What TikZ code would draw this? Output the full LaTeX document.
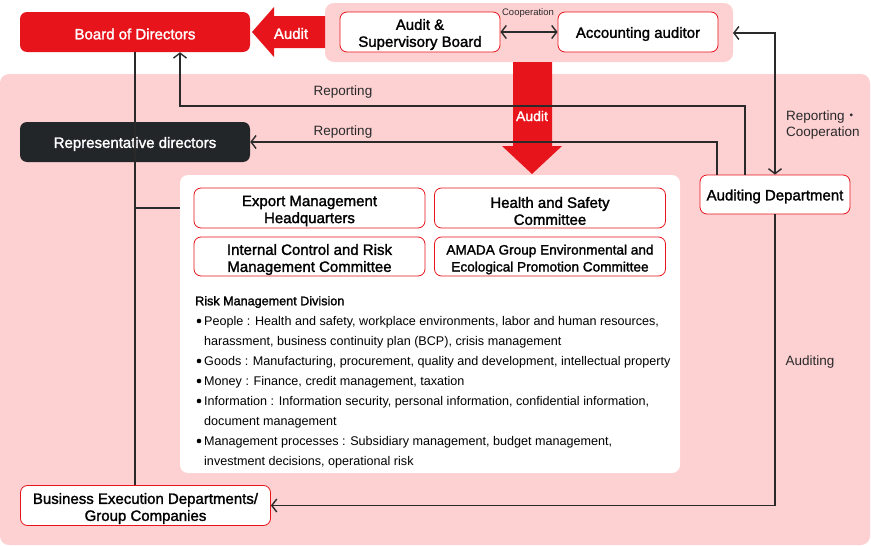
\documentclass[tikz,border=0pt]{standalone}
\usepackage{fontspec}
\setmainfont{Liberation Sans}
\newfontfamily\medfont[FakeBold=1.6]{Liberation Sans}
\newfontfamily\cjkfont{Noto Sans CJK JP}
\usetikzlibrary{arrows.meta}
\definecolor{ared}{HTML}{E8141B}
\definecolor{apink}{HTML}{FDD0D2}
\definecolor{adark}{HTML}{222629}
\definecolor{aline}{HTML}{2A2A2A}
\tikzset{
  redbox/.style={fill=ared,rounded corners=7pt,inner sep=0pt},
  darkbox/.style={fill=adark,rounded corners=7pt,inner sep=0pt},
  wbox/.style={draw=ared,line width=0.8pt,fill=white,rounded corners=7pt,inner sep=0pt},
  btxt/.style={font=\medfont\fontsize{15}{17}\selectfont,align=center,inner sep=0pt},
  wtxt/.style={btxt,text=white},
  conn/.style={draw=aline,line width=1.4pt},
  tip/.style={-{Straight Barb[length=5pt,width=13pt,line width=1.4pt]}},
  dtip/.style={{Straight Barb[length=5pt,width=13pt,line width=1.4pt]}-{Straight Barb[length=5pt,width=13pt,line width=1.4pt]}},
  lbl/.style={font=\fontsize{13.5}{16}\selectfont,text=aline,inner sep=0pt},
  risk/.style={font=\fontsize{12.6}{14}\selectfont,anchor=west,inner sep=0pt},
}
\begin{document}
\begin{tikzpicture}[x=1pt,y=-1pt]
\useasboundingbox (0,0) rectangle (871,546);
% backgrounds
\fill[apink,rounded corners=9pt] (325,3) rectangle (733,62);
\fill[apink,rounded corners=9pt] (0,74) rectangle (870,545);
\fill[white,rounded corners=8pt] (180,175) rectangle (680,473);

% big arrows
\fill[ared] (325,16) -- (274,16) -- (274,7) -- (252,32) -- (274,57) -- (274,48) -- (325,48) -- cycle;
\node[wtxt] (auditl) at (291,33.5) {Audit};
\fill[ared] (513,62) -- (552,62) -- (552,146) -- (562,146) -- (532,174) -- (502,146) -- (513,146) -- cycle;
\node[wtxt,font=\medfont\fontsize{14}{17}\selectfont] (auditd) at (532,116) {Audit};

% boxes
\node[redbox,minimum width=230pt,minimum height=40pt] (board) at (135,32) {};
\node[wbox,minimum width=160pt,minimum height=40pt] (asb) at (420,32) {};
\node[wbox,minimum width=160pt,minimum height=40pt] (acc) at (638,32) {};
\node[darkbox,minimum width=230pt,minimum height=40pt] (rep) at (135,142) {};
\node[wbox,minimum width=150pt,minimum height=39pt] (ad) at (775,194.5) {};
\node[wbox,minimum width=250pt,minimum height=40pt] (bex) at (145.5,505.5) {};
\node[wbox,minimum width=231pt,minimum height=40pt] (emh) at (309.5,208) {};
\node[wbox,minimum width=231pt,minimum height=40pt] (hsc) at (550,208) {};
\node[wbox,minimum width=231pt,minimum height=39pt] (icr) at (309.5,256.5) {};
\node[wbox,minimum width=231pt,minimum height=39pt] (amada) at (550,256.5) {};

% box texts
\node[wtxt] (tboard) at ([yshift=-2pt]board.center) {Board of Directors};
\node[btxt] (tasb) at ([yshift=-2.5pt]asb.center) {Audit \&\\Supervisory Board};
\node[btxt] (tacc) at ([yshift=-2pt]acc.center) {Accounting auditor};
\node[wtxt] (trep) at ([yshift=-2pt]rep.center) {Representative directors};
\node[btxt] (tad) at ([yshift=-2pt]ad.center) {Auditing Department};
\node[btxt] (tbex) at ([yshift=-3pt]bex.center) {Business Execution Departments/\\Group Companies};
\node[btxt] (temh) at ([yshift=-3pt]emh.center) {Export Management\\Headquarters};
\node[btxt] (thsc) at ([yshift=-3pt]hsc.center) {Health and Safety\\Committee};
\node[btxt] (ticr) at ([yshift=-3pt]icr.center) {Internal Control and Risk\\Management Committee};
\node[btxt,font=\medfont\fontsize{13.6}{17}\selectfont] (tamada) at ([yshift=-3pt]amada.center) {AMADA Group Environmental and\\Ecological Promotion Committee};

% coordinates
\coordinate (c745) at (745,106);
\coordinate (c180) at (180,106);
\coordinate (c717) at (717,142);
\coordinate (c733) at (733,33);
\coordinate (c775) at (775,33);
\coordinate (pl) at (180,208);

% connectors
\draw[conn] (board.south) -- (board.south |- bex.north);
\draw[conn] (board.south |- pl) -- (pl);
\draw[conn,tip] (ad.north -| c745) -- (c745) -- (c180) -- (board.south -| c180);
\draw[conn,tip] (ad.north -| c717) -- (c717) -- (rep.east);
\draw[conn,dtip] (asb.east) -- (acc.west);
\draw[conn,dtip] (c733) -- (c775) -- (ad.north);
\draw[conn,tip] (ad.south) -- (ad.south |- bex.east) -- (bex.east);

% labels
\node[font=\fontsize{9.5}{11}\selectfont,text=aline,inner sep=0pt] (lcoop) at (528,13) {Cooperation};
\node[lbl] (lrep1) at (343,92.5) {Reporting};
\node[lbl] (lrep2) at (343,132.5) {Reporting};
\node[lbl,anchor=west,align=left] (lrc) at (786,125) {Reporting{\cjkfont ・}\\Cooperation};
\node[lbl] (laud) at (810,362.5) {Auditing};

% risk text
\node[risk,font=\medfont\fontsize{12.6}{14}\selectfont] (rt) at (195,302) {Risk Management Division};
\foreach \y/\t in {322/{People : Health and safety, workplace environments, labor and human resources,},
                   342/{harassment, business continuity plan (BCP), crisis management},
                   362/{Goods : Manufacturing, procurement, quality and development, intellectual property},
                   382/{Money : Finance, credit management, taxation},
                   402/{Information : Information security, personal information, confidential information,},
                   422/{document management},
                   442/{Management processes : Subsidiary management, budget management,},
                   462/{investment decisions, operational risk}}
  {\node[risk] at (204,\y) {\t};}
\foreach \y in {321,361,381,401,441}
  {\fill[black] (199,\y) circle (2.3pt);}
\end{tikzpicture}
\end{document}
